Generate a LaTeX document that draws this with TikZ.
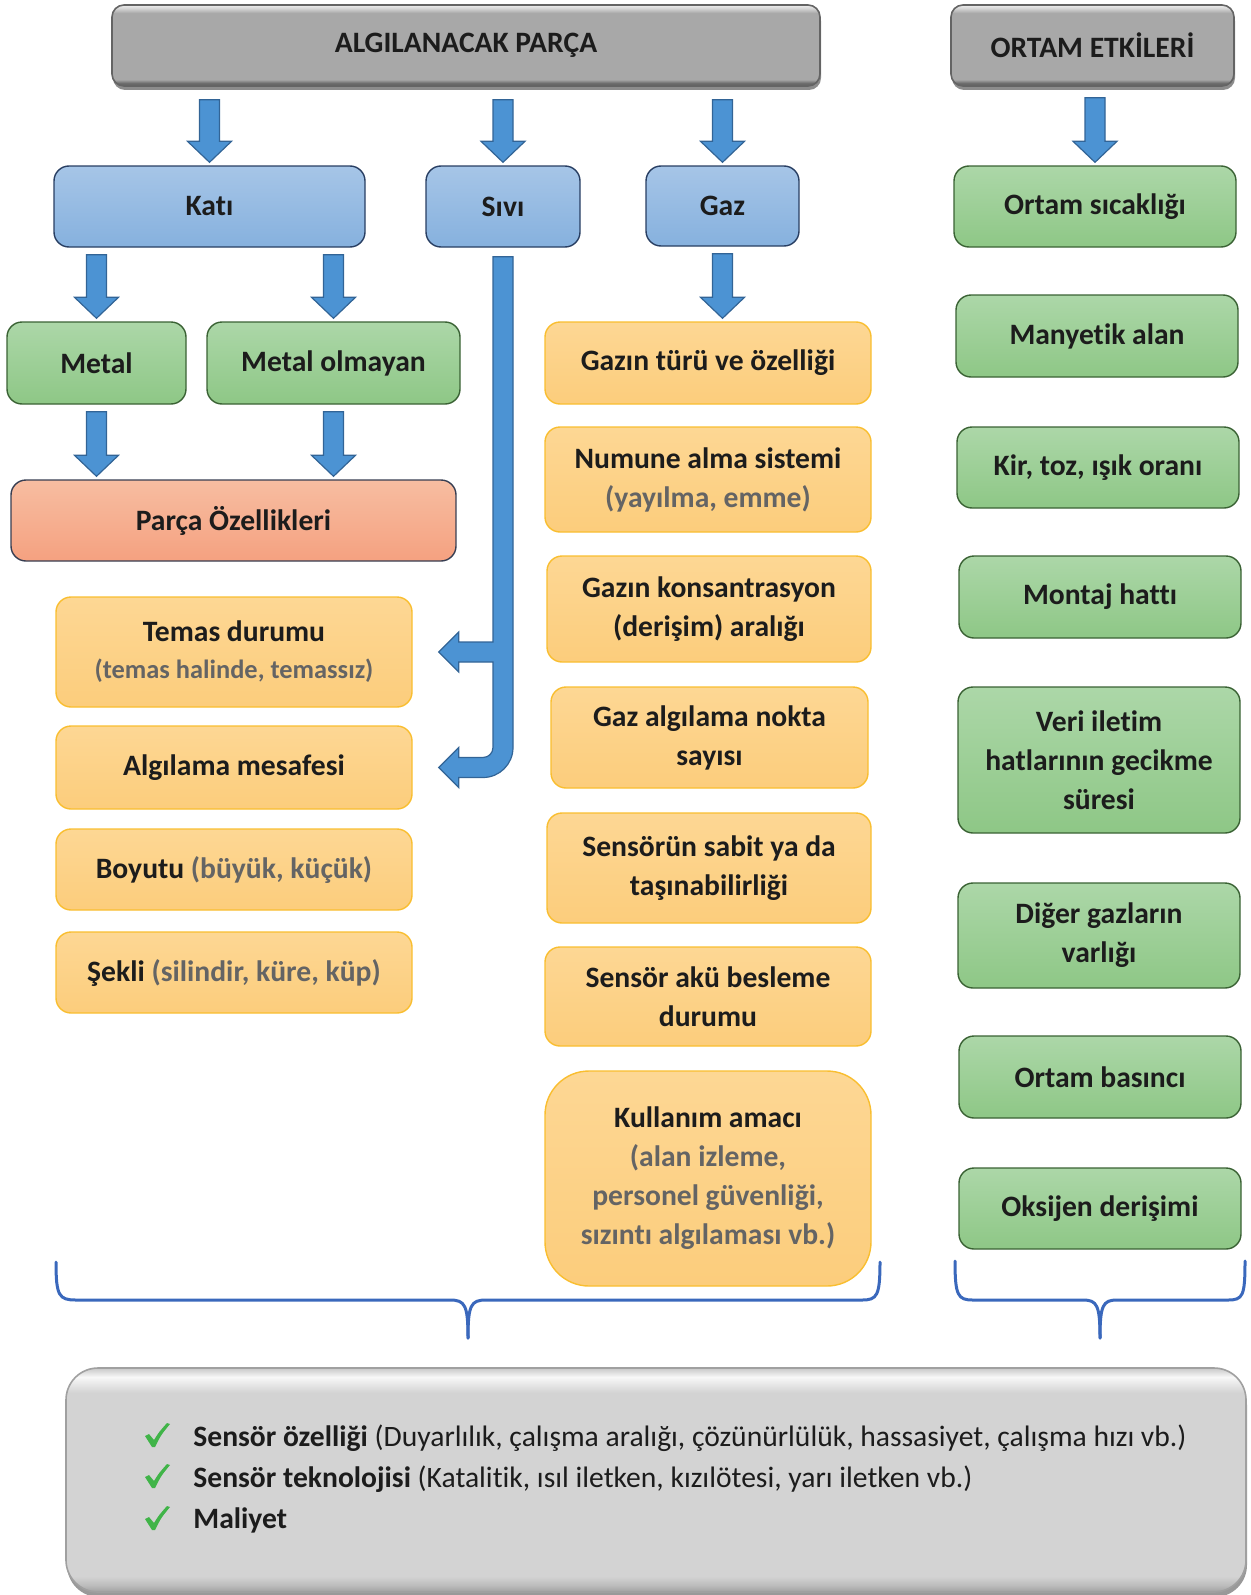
\documentclass[tikz,border=0pt]{standalone}
\usepackage{fontspec}
\setmainfont[Ligatures=NoCommon]{Carlito}
\usetikzlibrary{calc,shadows}

% palette
\definecolor{txt}{RGB}{28,28,28}
\definecolor{subgray}{RGB}{100,100,100}
\definecolor{bluetop}{RGB}{166,197,231}
\definecolor{bluebot}{RGB}{134,177,222}
\definecolor{blueline}{RGB}{40,62,98}
\definecolor{greentop}{RGB}{172,215,168}
\definecolor{greenbot}{RGB}{142,199,134}
\definecolor{greenline}{RGB}{58,98,52}
\definecolor{orangetop}{RGB}{253,215,148}
\definecolor{orangebot}{RGB}{252,205,124}
\definecolor{orangeline}{RGB}{249,190,48}
\definecolor{salmontop}{RGB}{247,189,161}
\definecolor{salmonbot}{RGB}{245,161,128}
\definecolor{salmonline}{RGB}{55,62,82}
\definecolor{arrowfill}{RGB}{76,147,211}
\definecolor{arrowline}{RGB}{50,100,150}
\definecolor{bracecol}{RGB}{58,104,188}
\definecolor{tickcol}{RGB}{64,180,72}
% bevelled grey headers
\definecolor{bvA}{RGB}{120,120,120}
\definecolor{bvB}{RGB}{100,100,100}
\definecolor{bvC}{RGB}{168,168,168}
\definecolor{bvD}{RGB}{214,214,214}
\definecolor{bvE}{RGB}{238,238,238}
% bevelled summary panel
\definecolor{pnA}{RGB}{160,160,160}
\definecolor{pnB}{RGB}{188,188,188}
\definecolor{pnC}{RGB}{211,211,211}
\definecolor{pnD}{RGB}{248,248,248}
\definecolor{pnE}{RGB}{200,200,200}

\pgfdeclareverticalshading{headerbevel}{100bp}{color(0bp)=(bvA); color(25bp)=(bvA);
  color(26.5bp)=(bvB); color(29bp)=(bvC); color(70bp)=(bvC); color(73bp)=(bvD);
  color(75bp)=(bvE); color(100bp)=(bvE)}
\pgfdeclareverticalshading{panelbevel}{100bp}{color(0bp)=(pnA); color(25bp)=(pnA);
  color(26.5bp)=(pnB); color(28.5bp)=(pnC); color(69.5bp)=(pnC); color(73bp)=(pnD);
  color(75bp)=(pnE); color(100bp)=(pnE)}

\newcommand\gy[1]{\textcolor{subgray}{#1}}

% vertical block arrow from point #2 down to point #3 (optional start gap #1)
\newcommand\blockdown[3][3.5pt]{%
  \draw[blockarrow] let \p1=#2, \p2=#3 in
    (\x1-5pt,\y1-#1) -- (\x1+5pt,\y1-#1) -- (\x1+5pt,\y2+12pt) -- (\x1+11pt,\y2+12pt)
    -- (\x1,\y2+1.5pt) -- (\x1-11pt,\y2+12pt) -- (\x1-5pt,\y2+12pt) -- cycle;}

\tikzset{
  base/.style={rounded corners=7.5pt, line width=0.7pt, text=txt, align=center,
    inner sep=0pt, font=\bfseries\fontsize{14.8}{19.5}\selectfont},
  wh/.style 2 args={minimum width={#1*0.5pt}, minimum height={#2*0.5pt}},
  bluebox/.style={base, draw=blueline, top color=bluetop, bottom color=bluebot},
  greenbox/.style={base, draw=greenline, top color=greentop, bottom color=greenbot},
  orangebox/.style={base, draw=orangeline, top color=orangetop, bottom color=orangebot},
  salmonbox/.style={base, draw=salmonline, top color=salmontop, bottom color=salmonbot},
  header/.style={base, rounded corners=6pt, draw=bvB, line width=0.8pt,
    shade, shading=headerbevel,
    drop shadow={shadow xshift=0.5pt, shadow yshift=-2pt, opacity=0.45, fill=black}},
  panel/.style={base, rounded corners=16pt, draw=pnA, line width=0.8pt,
    shade, shading=panelbevel,
    drop shadow={shadow xshift=0.5pt, shadow yshift=-2.5pt, opacity=0.4, fill=black}},
  blockarrow/.style={fill=arrowfill, draw=arrowline, line width=0.6pt, line join=miter},
  bracepath/.style={draw=bracecol, line width=1.5pt, line cap=round},
  itemtext/.style={anchor=base west, inner sep=0pt, text=txt,
    font=\fontsize{14.8}{19.5}\selectfont},
  tick/.pic={\fill[tickcol] (-12,1) .. controls (-10,-0.5) .. (-8,-1) -- (-3,5)
      .. controls (2,-3) .. (10,-12) -- (13,-11) .. controls (4,0) .. (-2,12)
      -- (-5,12) -- cycle;}
}

\begin{document}
\begin{tikzpicture}[x=0.5pt, y=-0.5pt]
\useasboundingbox (0,0) rectangle (1250,1595);

% headers
\node[header, wh={708}{81}] (algi) at (466,45.5) {\raisebox{-1pt}{ALGILANACAK PARÇA}};
\node[header, wh={283}{81}] (ortam) at (1092.5,45.5) {\raisebox{-1pt}{ORTAM ETKİLERİ}};

% states of matter
\node[bluebox, wh={311}{81}] (kati) at (209.5,206.5) {Katı};
\node[bluebox, wh={154}{81}] (sivi) at (503,206.5) {Sıvı};
\node[bluebox, wh={153}{80}] (gaz) at (722.5,206) {Gaz};

% solids
\node[greenbox, wh={179}{82}] (metal) at (96.5,363) {Metal};
\node[greenbox, wh={253}{82}] (metalol) at (333.5,363) {Metal olmayan};
\node[salmonbox, wh={445}{81}] (parca) at (233.5,520.5) {Parça Özellikleri};

% part properties
\node[orangebox, wh={356}{110}] (temas) at (234,652)
  {Temas durumu\\[-1pt]{\fontsize{13.2}{17}\selectfont\gy{(temas halinde, temassız)}}};
\node[orangebox, wh={356}{83}] (algmes) at (234,767.5) {Algılama mesafesi};
\node[orangebox, wh={356}{81}] (boyut) at (234,869.5) {Boyutu \gy{(büyük, küçük)}};
\node[orangebox, wh={356}{81}] (sekil) at (234,972.5) {Şekli \gy{(silindir, küre, küp)}};

% gas properties
\node[orangebox, wh={326}{82}] (gtur) at (708,363) {Gazın türü ve özelliği};
\node[orangebox, wh={326}{105}] (numune) at (708,479.5) {Numune alma sistemi\\\gy{(yayılma, emme)}};
\node[orangebox, wh={324}{106}] (konsant) at (709,609) {Gazın konsantrasyon\\(derişim) aralığı};
\node[orangebox, wh={317}{101}] (nokta) at (709.5,737.5) {Gaz algılama nokta\\sayısı};
\node[orangebox, wh={324}{110}] (sabit) at (709,868) {Sensörün sabit ya da\\taşınabilirliği};
\node[orangebox, wh={326}{99}] (aku) at (708,996.5) {Sensör akü besleme\\durumu};
\node[orangebox, rounded corners=22pt, wh={326}{215}] (kullanim) at (708,1178.5)
  {Kullanım amacı\\\gy{(alan izleme,}\\\gy{personel güvenliği,}\\\gy{sızıntı algılaması vb.)}};

% environmental effects
\node[greenbox, wh={282}{81}] (osic) at (1095,206.5) {Ortam sıcaklığı};
\node[greenbox, wh={282}{82}] (many) at (1097,336) {Manyetik alan};
\node[greenbox, wh={282}{81}] (kir) at (1098,467.5) {Kir, toz, ışık oranı};
\node[greenbox, wh={282}{82}] (montaj) at (1100,597) {Montaj hattı};
\node[greenbox, wh={282}{146}] (veri) at (1099,760) {Veri iletim\\hatlarının gecikme\\süresi};
\node[greenbox, wh={282}{105}] (diger) at (1099,935.5) {Diğer gazların\\varlığı};
\node[greenbox, wh={282}{82}] (basinc) at (1100,1077) {Ortam basıncı};
\node[greenbox, wh={282}{81}] (oksijen) at (1100,1208.5) {Oksijen derişimi};

% block arrows
\blockdown[6.5pt]{(algi.south -| kati.north)}{(kati.north)}
\blockdown[6.5pt]{(algi.south -| sivi.north)}{(sivi.north)}
\blockdown[6.5pt]{(algi.south -| gaz.north)}{(gaz.north)}
\blockdown[5.5pt]{(ortam.south -| osic.north)}{(osic.north)}
\blockdown{(kati.south -| metal.north)}{(metal.north)}
\blockdown{(kati.south -| metalol.north)}{(metalol.north)}
\blockdown{(metal.south)}{(metal.south |- parca.north)}
\blockdown{(metalol.south)}{(metalol.south |- parca.north)}
\blockdown{(gaz.south)}{(gaz.south |- gtur.north)}

% liquid: bent pipe with a side branch
\draw[blockarrow] let \p1=(sivi.south), \p2=(temas.east), \p3=(algmes.east) in
  (\x1-5pt,\y1-4.5pt) -- (\x1+5pt,\y1-4.5pt) -- (\x1+5pt,\y3+10pt)
  arc[start angle=0, end angle=-90, radius=15pt]
  -- (\x3+23pt,\y3-5pt) -- (\x3+23pt,\y3-10pt) -- (\x3+13pt,\y3)
  -- (\x3+23pt,\y3+10pt) -- (\x3+23pt,\y3+5pt) -- (\x1-10pt,\y3+5pt)
  arc[start angle=-90, end angle=0, radius=5pt]
  -- (\x1-5pt,\y2-5pt) -- (\x2+23pt,\y2-5pt) -- (\x2+23pt,\y2-10pt)
  -- (\x2+13pt,\y2) -- (\x2+23pt,\y2+10pt) -- (\x2+23pt,\y2+5pt)
  -- (\x1-5pt,\y2+5pt) -- cycle;

% grouping braces
\draw[bracepath] (56,1262) .. controls (56,1296) and (59,1300) .. (76,1300)
  -- (450,1300) .. controls (465,1300) and (468,1305) .. (468,1338);
\draw[bracepath] (468,1338) .. controls (468,1305) and (471,1300) .. (486,1300)
  -- (862,1300) .. controls (877,1300) and (880,1296) .. (880,1262);
\draw[bracepath] (955,1261) .. controls (955,1296) and (958,1300) .. (973,1300)
  -- (1083,1300) .. controls (1097,1300) and (1100,1305) .. (1100,1338);
\draw[bracepath] (1100,1338) .. controls (1100,1305) and (1103,1300) .. (1117,1300)
  -- (1228,1300) .. controls (1243,1300) and (1245,1296) .. (1245,1261);

% summary panel
\node[panel, wh={1180}{224}] (ozet) at (656,1480) {};
\pic at (157,1435) {tick};
\pic at (157,1476) {tick};
\pic at (157,1518) {tick};
\node[itemtext] (m1) at (193,1446) {\textbf{Sensör özelliği} (Duyarlılık, çalışma aralığı, çözünürlülük, hassasiyet, çalışma hızı vb.)};
\node[itemtext] (m2) at (193,1487) {\textbf{Sensör teknolojisi} (Katalitik, ısıl iletken, kızılötesi, yarı iletken vb.)};
\node[itemtext] (m3) at (193,1528) {\textbf{Maliyet}};
\end{tikzpicture}
\end{document}
